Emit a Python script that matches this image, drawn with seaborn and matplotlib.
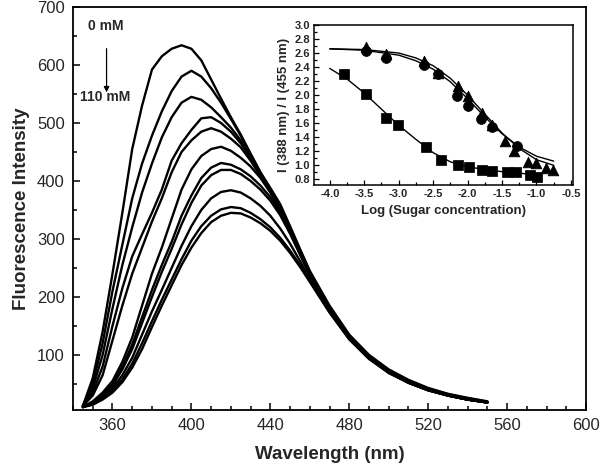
import matplotlib
matplotlib.use("Agg")
import matplotlib.pyplot as plt
import pandas as pd
import seaborn as sns
from matplotlib.ticker import MultipleLocator, FixedLocator

# ---------------- main panel data ----------------
wavelength = [345, 350, 355, 360, 365, 370, 375, 380, 385, 390, 395, 400, 405, 410,
              415, 420, 425, 430, 435, 440, 445, 450, 455, 460, 470, 480, 490, 500,
              510, 520, 530, 540, 550]
curve_01 = [12, 60, 140, 240, 345, 455, 530, 592, 615, 628, 634, 628, 608, 575, 542, 510, 480,
            447, 415, 388, 360, 322, 283, 245, 185, 135, 100, 75, 57, 43, 33, 26, 20]
curve_02 = [12, 50, 120, 210, 290, 370, 430, 478, 520, 555, 580, 590, 580, 560, 535, 507, 478,
            446, 414, 385, 356, 320, 281, 243, 183, 133, 99, 74, 56, 42, 32, 25, 19]
curve_03 = [12, 42, 100, 180, 255, 320, 380, 430, 475, 510, 535, 545, 540, 527, 510, 492, 470,
            442, 412, 384, 354, 318, 280, 242, 182, 132, 98, 73, 55, 42, 32, 25, 19]
curve_04 = [12, 35, 80, 150, 215, 270, 308, 345, 385, 435, 465, 488, 508, 510, 500, 485, 465,
            440, 411, 383, 353, 318, 279, 241, 181, 131, 97, 72, 54, 41, 31, 24, 18]
curve_05 = [12, 30, 65, 125, 185, 240, 285, 330, 370, 415, 450, 470, 485, 491, 485, 473, 458,
            435, 408, 381, 351, 316, 278, 240, 180, 130, 96, 71, 53, 40, 30, 23, 18]
curve_06 = [10, 20, 35, 55, 88, 130, 185, 240, 285, 335, 385, 420, 443, 455, 459, 452, 440,
            425, 405, 380, 350, 315, 277, 240, 180, 130, 96, 71, 53, 40, 30, 23, 18]
curve_07 = [10, 18, 32, 50, 80, 118, 165, 212, 255, 295, 340, 375, 405, 423, 431, 428, 420,
            408, 392, 372, 346, 312, 275, 238, 179, 129, 95, 70, 53, 40, 30, 23, 18]
curve_08 = [10, 17, 30, 47, 75, 110, 155, 200, 243, 283, 325, 362, 392, 410, 419, 419, 412,
            400, 385, 366, 341, 309, 273, 237, 178, 129, 95, 70, 52, 39, 30, 23, 18]
curve_09 = [10, 16, 27, 42, 65, 95, 135, 175, 212, 250, 288, 322, 350, 370, 381, 384, 380,
            370, 357, 340, 318, 292, 262, 232, 176, 128, 94, 70, 52, 39, 30, 23, 18]
curve_10 = [10, 15, 25, 38, 58, 85, 120, 158, 195, 230, 265, 297, 322, 340, 351, 355, 353,
            345, 334, 320, 302, 280, 255, 228, 174, 127, 94, 69, 52, 39, 30, 23, 18]
curve_11 = [10, 14, 23, 35, 53, 78, 110, 148, 185, 220, 255, 285, 310, 329, 340, 345, 344,
            337, 327, 314, 297, 276, 252, 226, 173, 127, 93, 69, 52, 39, 30, 23, 18]
curves = [curve_01, curve_02, curve_03, curve_04, curve_05, curve_06,
          curve_07, curve_08, curve_09, curve_10, curve_11]

main_xticks = [360, 400, 440, 480, 520, 560, 600]
main_yticks = [100, 200, 300, 400, 500, 600, 700]

# ---------------- inset data ----------------
square_x = [-3.79, -3.48, -3.18, -3.01, -2.60, -2.38, -2.14, -1.98, -1.79, -1.64, -1.43, -1.30, -1.10, -0.99]
square_y = [2.30, 2.01, 1.68, 1.58, 1.26, 1.07, 1.01, 0.97, 0.94, 0.92, 0.90, 0.90, 0.86, 0.83]
circle_x = [-3.48, -3.18, -2.64, -2.43, -2.15, -1.99, -1.80, -1.64, -1.29]
circle_y = [2.63, 2.53, 2.43, 2.30, 1.99, 1.85, 1.66, 1.55, 1.28]
triangle_x = [-3.48, -3.18, -2.63, -2.43, -2.14, -1.99, -1.79, -1.64, -1.46, -1.33, -1.12, -1.00, -0.86, -0.76]
triangle_y = [2.68, 2.58, 2.48, 2.32, 2.13, 1.99, 1.74, 1.57, 1.35, 1.21, 1.05, 1.03, 0.96, 0.93]

fit_square_x = [-4.0, -3.75, -3.5, -3.25, -3.0, -2.75, -2.5, -2.25, -2.0, -1.75, -1.5, -1.25, -1.0]
fit_square_y = [2.38, 2.23, 2.03, 1.80, 1.57, 1.37, 1.18, 1.05, 0.98, 0.94, 0.91, 0.89, 0.86]
fit_circle_x = [-4.0, -3.5, -3.0, -2.75, -2.5, -2.25, -2.0, -1.75, -1.5, -1.25, -1.0, -0.75]
fit_circle_y = [2.66, 2.64, 2.57, 2.49, 2.37, 2.19, 1.95, 1.69, 1.45, 1.26, 1.13, 1.06]
fit_triangle_x = [-4.0, -3.5, -3.0, -2.75, -2.5, -2.25, -2.0, -1.75, -1.5, -1.25, -1.0, -0.75]
fit_triangle_y = [2.66, 2.65, 2.60, 2.53, 2.42, 2.24, 2.00, 1.73, 1.46, 1.24, 1.08, 1.00]

inset_xticks = [-4.0, -3.5, -3.0, -2.5, -2.0, -1.5, -1.0, -0.5]
inset_yticks = [0.8, 1.0, 1.2, 1.4, 1.6, 1.8, 2.0, 2.2, 2.4, 2.6, 2.8, 3.0]

# ---------------- style ----------------
sns.set_theme(style="ticks")
plt.rcParams['font.family'] = ['Liberation Sans', 'DejaVu Sans']
plt.rcParams['axes.unicode_minus'] = False

fig = plt.figure(figsize=(6.0, 4.73), dpi=100)
ax = fig.add_axes([0.1217, 0.1332, 0.855, 0.852])

rows = []
for i, c in enumerate(curves):
    for w, v in zip(wavelength, c):
        rows.append({"curve": f"c{i:02d}", "wavelength": w, "intensity": v})
df = pd.DataFrame(rows)
sns.lineplot(data=df, x="wavelength", y="intensity", hue="curve",
             palette=["black"] * len(curves), legend=False, linewidth=1.7,
             estimator=None, sort=False, ax=ax)

ax.set_xlim(340, 600)
ax.set_ylim(5, 700)
ax.xaxis.set_major_locator(FixedLocator(main_xticks))
ax.xaxis.set_minor_locator(MultipleLocator(10))
ax.yaxis.set_major_locator(FixedLocator(main_yticks))
ax.yaxis.set_minor_locator(MultipleLocator(50))
ax.tick_params(which="both", direction="in", color="black", width=1.1)
ax.tick_params(which="major", length=5, labelsize=12, pad=6)
ax.tick_params(which="minor", length=3)
for s in ax.spines.values():
    s.set_linewidth(1.3)
    s.set_color("black")
ax.set_xlabel("Wavelength (nm)", fontsize=13.5, fontweight="bold", labelpad=9)
ax.set_ylabel("Fluorescence Intensity", fontsize=13.5, fontweight="bold", labelpad=5)

ax.text(347.5, 668, "0 mM", fontsize=10, fontweight="bold", ha="left", va="center")
ax.annotate("", xy=(357, 548), xytext=(357, 633),
            arrowprops=dict(arrowstyle="-|>", color="black", lw=0.9, mutation_scale=8))
ax.text(343.5, 545, "110 mM", fontsize=10, fontweight="bold", ha="left", va="center")

# ---------------- inset ----------------
ins = fig.add_axes([0.5233, 0.6089, 0.4317, 0.3383])
ins.set_facecolor("white")

fits = pd.DataFrame(
    [{"set": "sq", "x": x, "y": y} for x, y in zip(fit_square_x, fit_square_y)] +
    [{"set": "ci", "x": x, "y": y} for x, y in zip(fit_circle_x, fit_circle_y)] +
    [{"set": "tr", "x": x, "y": y} for x, y in zip(fit_triangle_x, fit_triangle_y)])
sns.lineplot(data=fits, x="x", y="y", hue="set", palette=["black"] * 3, legend=False,
             linewidth=1.0, estimator=None, sort=False, ax=ins)

sns.scatterplot(x=square_x, y=square_y, marker="s", color="black", s=42,
                edgecolor="black", ax=ins, zorder=3)
sns.scatterplot(x=circle_x, y=circle_y, marker="o", color="black", s=50,
                edgecolor="black", ax=ins, zorder=3)
sns.scatterplot(x=triangle_x, y=triangle_y, marker="^", color="black", s=58,
                edgecolor="black", ax=ins, zorder=3)

ins.set_xlim(-4.23, -0.47)
ins.set_ylim(0.72, 3.0)
ins.xaxis.set_major_locator(FixedLocator(inset_xticks))
ins.xaxis.set_minor_locator(MultipleLocator(0.25))
ins.yaxis.set_major_locator(FixedLocator(inset_yticks))
ins.yaxis.set_minor_locator(MultipleLocator(0.1))
ins.set_xticklabels([f"{t:.1f}" for t in inset_xticks], fontweight="bold")
ins.set_yticklabels([f"{t:.1f}" for t in inset_yticks], fontweight="bold")
ins.tick_params(which="both", direction="in", color="black", width=0.9)
ins.tick_params(which="major", length=3.5, labelsize=8, pad=3)
ins.tick_params(which="minor", length=2)
for s in ins.spines.values():
    s.set_linewidth(1.1)
    s.set_color("black")
ins.set_xlabel("Log (Sugar concentration)", fontsize=9.5, fontweight="bold", labelpad=4)
ins.set_ylabel("I (388 nm) / I (455 nm)", fontsize=9.5, fontweight="bold", labelpad=3)

fig.savefig("out.png", dpi=100)
